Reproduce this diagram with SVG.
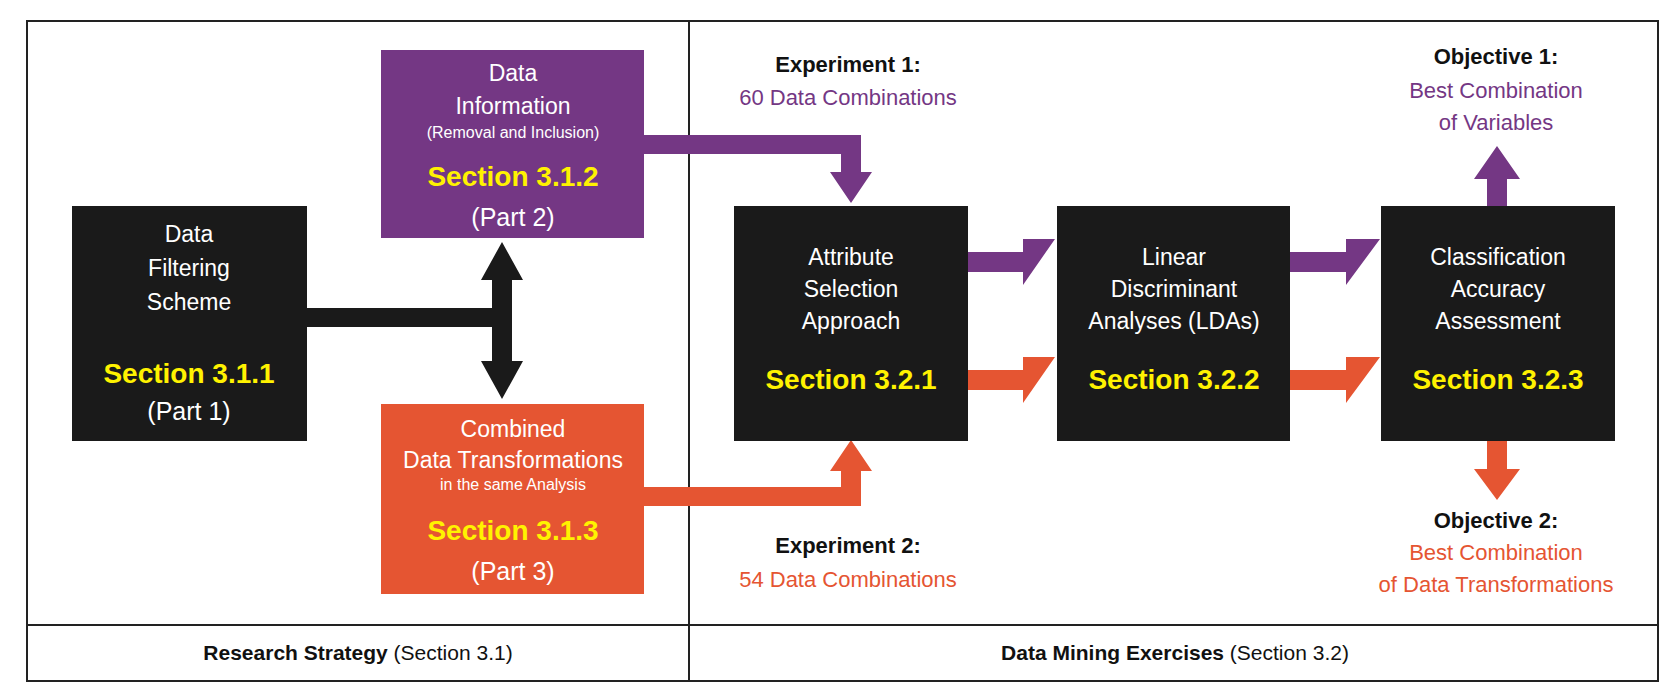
<svg xmlns="http://www.w3.org/2000/svg" width="1672" height="699" viewBox="0 0 1672 699">
<style>
text{font-family:"Liberation Sans",Arial,sans-serif;text-anchor:middle}
.w{fill:#fff;font-size:23px}
.ws{fill:#fff;font-size:16px}
.y{fill:#FFF200;font-size:28px;font-weight:bold}
.p{fill:#fff;font-size:25px}
.h{fill:#111;font-size:22px;font-weight:bold}
.pu{fill:#743784;font-size:22px}
.or{fill:#E55532;font-size:22px}
.b{fill:#111;font-size:21px}
</style>
<rect x="0" y="0" width="1672" height="699" fill="#fff"/>
<g id="frame" fill="none" stroke="#222" stroke-width="2">
<rect x="27" y="21" width="1631" height="660"/>
<line x1="689" y1="21" x2="689" y2="681"/>
<line x1="27" y1="625" x2="1658" y2="625"/>
</g>
<g id="connectors">
<path d="M307 308H493V327H307Z" fill="#1a1a1a"/>
<path d="M502 242L523 280H512V361H523L502 399L481 361H492V280H481Z" fill="#1a1a1a"/>
<path d="M644 135H861V172H872L851 203L830 172H841V154H644Z" fill="#743784"/>
<path d="M644 506H861V471H872L851 440L830 471H841V487H644Z" fill="#E55532"/>
<path d="M968 252H1023V239H1055L1023 285V272H968Z" fill="#743784" transform="translate(0,0)"/>
<path d="M968 370H1023V357H1055L1023 403V390H968Z" fill="#E55532"/>
<path d="M1290 252H1346V239H1380L1346 285V272H1290Z" fill="#743784"/>
<path d="M1290 370H1346V357H1380L1346 403V390H1290Z" fill="#E55532"/>
<path d="M1487 206V179H1474L1497 146L1520 179H1507V206Z" fill="#743784"/>
<path d="M1487 441V469H1474L1497 500L1520 469H1507V441Z" fill="#E55532"/>
</g>
<g id="filtering">
<rect x="72" y="206" width="235" height="235" fill="#1a1a1a"/>
<text class="w" x="189" y="242">Data</text>
<text class="w" x="189" y="276">Filtering</text>
<text class="w" x="189" y="310">Scheme</text>
<text class="y" x="189" y="383">Section 3.1.1</text>
<text class="p" x="189" y="420">(Part 1)</text>
</g>
<g id="info">
<rect x="381" y="50" width="263" height="188" fill="#743784"/>
<text class="w" x="513" y="81">Data</text>
<text class="w" x="513" y="114">Information</text>
<text class="ws" x="513" y="138">(Removal and Inclusion)</text>
<text class="y" x="513" y="186">Section 3.1.2</text>
<text class="p" x="513" y="226">(Part 2)</text>
</g>
<g id="combined">
<rect x="381" y="404" width="263" height="190" fill="#E55532"/>
<text class="w" x="513" y="437">Combined</text>
<text class="w" x="513" y="468">Data Transformations</text>
<text class="ws" x="513" y="490">in the same Analysis</text>
<text class="y" x="513" y="540">Section 3.1.3</text>
<text class="p" x="513" y="580">(Part 3)</text>
</g>
<g id="exp1">
<text class="h" x="848" y="72">Experiment 1:</text>
<text class="pu" x="848" y="105">60 Data Combinations</text>
</g>
<g id="exp2">
<text class="h" x="848" y="553">Experiment 2:</text>
<text class="or" x="848" y="587">54 Data Combinations</text>
</g>
<g id="attribute">
<rect x="734" y="206" width="234" height="235" fill="#1a1a1a"/>
<text class="w" x="851" y="265">Attribute</text>
<text class="w" x="851" y="297">Selection</text>
<text class="w" x="851" y="329">Approach</text>
<text class="y" x="851" y="389">Section 3.2.1</text>
</g>
<g id="lda">
<rect x="1057" y="206" width="233" height="235" fill="#1a1a1a"/>
<text class="w" x="1174" y="265">Linear</text>
<text class="w" x="1174" y="297">Discriminant</text>
<text class="w" x="1174" y="329">Analyses (LDAs)</text>
<text class="y" x="1174" y="389">Section 3.2.2</text>
</g>
<g id="classification">
<rect x="1381" y="206" width="234" height="235" fill="#1a1a1a"/>
<text class="w" x="1498" y="265">Classification</text>
<text class="w" x="1498" y="297">Accuracy</text>
<text class="w" x="1498" y="329">Assessment</text>
<text class="y" x="1498" y="389">Section 3.2.3</text>
</g>
<g id="obj1">
<text class="h" x="1496" y="64">Objective 1:</text>
<text class="pu" x="1496" y="98">Best Combination</text>
<text class="pu" x="1496" y="130">of Variables</text>
</g>
<g id="obj2">
<text class="h" x="1496" y="528">Objective 2:</text>
<text class="or" x="1496" y="560">Best Combination</text>
<text class="or" x="1496" y="592">of Data Transformations</text>
</g>
<g id="footer">
<text class="b" x="358" y="660"><tspan font-weight="bold">Research Strategy</tspan> (Section 3.1)</text>
<text class="b" x="1175" y="660"><tspan font-weight="bold">Data Mining Exercises</tspan> (Section 3.2)</text>
</g>
</svg>
